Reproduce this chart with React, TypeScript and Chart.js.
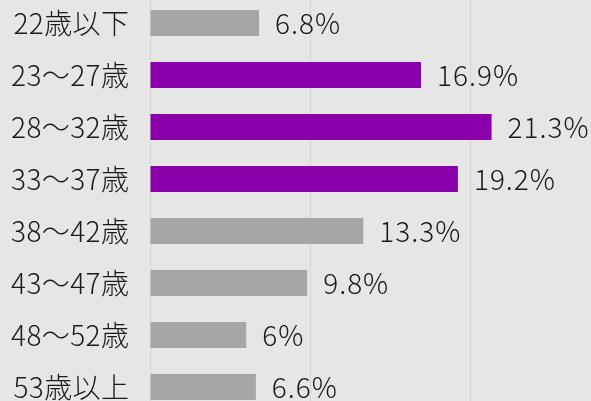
import React, { useEffect, useRef } from "react";
import { Chart, registerables } from "chart.js";

Chart.register(...registerables);

const categories = ["22歳以下", "23～27歳", "28～32歳", "33～37歳", "38～42歳", "43～47歳", "48～52歳", "53歳以上"];
const values = [6.8, 16.9, 21.3, 19.2, 13.3, 9.8, 6, 6.6];
const highlighted = [false, true, true, true, false, false, false, false];
const valueLabels = ["6.8%", "16.9%", "21.3%", "19.2%", "13.3%", "9.8%", "6%", "6.6%"];
const gridTicks = [0, 10, 20];

const PURPLE = "#8a00aa";
const GRAY = "#a6a6a6";
const BG = "#e6e6e6";
const TEXT = "#1a1a1a";
const FONT = "'Noto Sans CJK JP', 'Noto Sans', sans-serif";
const FONT_SIZE = 28;

const bgPlugin = {
  id: "bgFill",
  beforeDraw(chart: any) {
    const { ctx, width, height } = chart;
    ctx.save();
    ctx.fillStyle = BG;
    ctx.fillRect(0, 0, width, height);
    ctx.restore();
  },
};

const labelPlugin = {
  id: "labels",
  afterDatasetsDraw(chart: any) {
    const { ctx } = chart;
    const meta = chart.getDatasetMeta(0);
    const yScale = chart.scales.y;
    ctx.save();
    ctx.font = `300 ${FONT_SIZE}px ${FONT}`;
    ctx.fillStyle = TEXT;
    ctx.textBaseline = "middle";
    ctx.textAlign = "right";
    const labelSpacing = 0.4;
    (ctx as any).letterSpacing = `${labelSpacing}px`;
    yScale.ticks.forEach((t: any, i: number) => {
      const label = chart.data.labels[t.value];
      ctx.fillText(label, chart.chartArea.left - 21 + labelSpacing, yScale.getPixelForTick(i));
    });
    ctx.textAlign = "left";
    (ctx as any).letterSpacing = "1px";
    meta.data.forEach((bar: any, i: number) => {
      ctx.fillText(valueLabels[i], bar.x + 16, bar.y);
    });
    ctx.restore();
  },
};

export default function App() {
  const ref = useRef<HTMLCanvasElement | null>(null);
  useEffect(() => {
    if (!ref.current) return;
    const chart = new Chart(ref.current, {
      type: "bar",
      data: {
        labels: categories,
        datasets: [
          {
            data: values,
            backgroundColor: highlighted.map((h) => (h ? PURPLE : GRAY)),
            barPercentage: 0.5,
            categoryPercentage: 1,
          },
        ],
      },
      options: {
        indexAxis: "y",
        animation: false,
        responsive: false,
        maintainAspectRatio: false,
        layout: { padding: { top: 1, bottom: 1, left: 0, right: 0 } },
        plugins: { legend: { display: false }, tooltip: { enabled: false } },
        scales: {
          x: {
            min: 0,
            max: 27.5,
            afterBuildTicks: (scale: any) => {
              scale.ticks = gridTicks.map((v) => ({ value: v }));
            },
            ticks: { display: false },
            grid: { color: "#d4d4d4", drawTicks: false, lineWidth: 1 },
            border: { display: false },
          },
          y: {
            afterFit: (scale: any) => {
              scale.width = 150;
            },
            ticks: { display: false, padding: 0 },
            grid: { display: false, drawTicks: false },
            border: { display: false },
          },
        },
      },
      plugins: [bgPlugin, labelPlugin],
    });
    return () => chart.destroy();
  }, []);
  return (
    <div style={{ position: "fixed", left: 0, top: -4, width: 591, height: 418, overflow: "hidden" }}>
      <canvas ref={ref} width={591} height={418} style={{ display: "block" }} />
    </div>
  );
}
